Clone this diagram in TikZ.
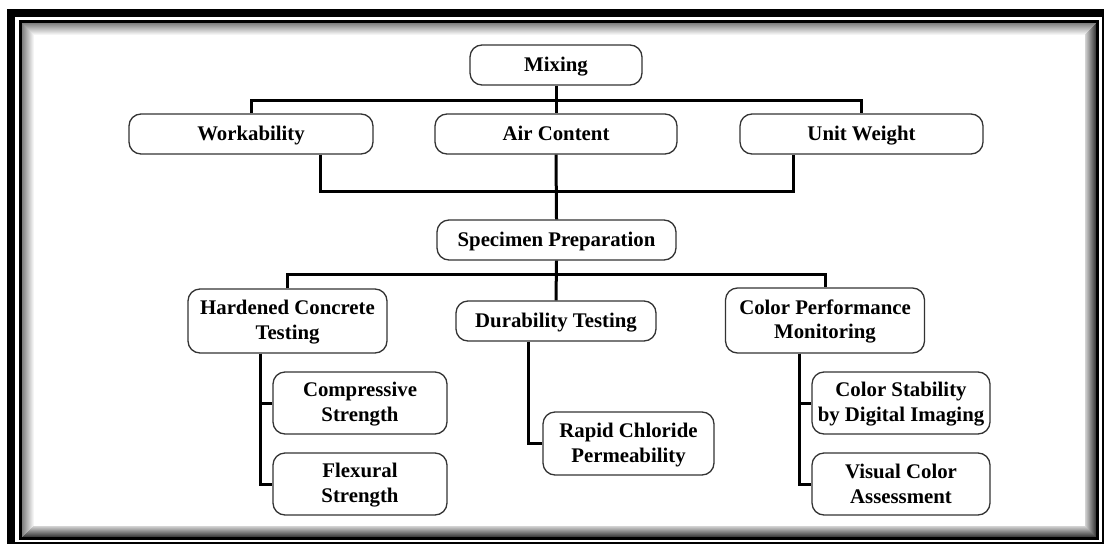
\documentclass[tikz,border=0pt]{standalone}
\usepackage{fontspec}
\setmainfont{Liberation Serif}
\newcommand{\stl}[1]{#1\vrule height 17pt depth 3.4pt width 0pt\relax}
\begin{document}
\begin{tikzpicture}[x=1pt,y=-1pt,
  box/.style={draw=black!80, line width=1.3pt, rounded corners=12pt, fill=white,
    align=center, inner sep=0pt, font=\bfseries\fontsize{20.8}{24.5}\selectfont},
  conn/.style={line width=3pt, black, line cap=butt, line join=miter}]
\useasboundingbox (0,0) rectangle (1107,546);
% frame
\fill[white] (0,0) rectangle (1107,546);
\fill[black] (7,9) rectangle (1104,544);
\fill[white] (15,17) rectangle (1101.5,541.5);
\foreach \i in {0,...,11} {
  \pgfmathsetmacro\op{0.5*(1-\i/12)}
  \pgfmathsetmacro\opb{0.8*(1-\i/14)}
  \draw[black, opacity=\op, line width=1pt] (22+\i,537-\i) -- (22+\i,23+\i) -- (1096-\i,23+\i);
  \draw[black, opacity=\opb, line width=1pt] (1096-\i,23+\i) -- (1096-\i,537-\i) -- (22+\i,537-\i);
}
\draw[black, line width=2.5pt] (20.5,21.5) rectangle (1097.5,538.5);

% nodes
\node[box, minimum width=172pt, minimum height=40pt] (mix) at (556,65) {\stl{Mixing}};
\node[box, minimum width=244pt, minimum height=40pt] (work) at (251,134) {\stl{Workability}};
\node[box, minimum width=242pt, minimum height=40pt] (air) at (556,134) {\stl{Air Content}};
\node[box, minimum width=243pt, minimum height=40pt] (unit) at (861.5,134) {\stl{Unit Weight}};
\node[box, minimum width=239pt, minimum height=40pt] (spec) at (556.5,240) {\stl{Specimen Preparation}};
\node[box, minimum width=199pt, minimum height=64pt] (hard) at (287.5,321) {\stl{Hardened Concrete}\\\stl{Testing}};
\node[box, minimum width=200pt, minimum height=40pt] (dur) at (556,321) {\stl{Durability Testing}};
\node[box, minimum width=199pt, minimum height=65pt] (color) at (825,320.5) {\stl{Color Performance}\\\stl{Monitoring}};
\node[box, minimum width=174pt, minimum height=62pt] (comp) at (360,403) {\stl{Compressive}\\\stl{Strength}};
\node[box, minimum width=174pt, minimum height=62pt] (flex) at (360,484) {\stl{Flexural}\\\stl{Strength}};
\node[box, minimum width=171pt, minimum height=63pt] (rapid) at (628.5,443.5) {\stl{Rapid Chloride}\\\stl{Permeability}};
\node[box, minimum width=178pt, minimum height=62pt] (stab) at (901,403) {\stl{Color Stability}\\\stl{by Digital Imaging}};
\node[box, minimum width=178pt, minimum height=62pt] (vis) at (901,484) {\stl{Visual Color}\\\stl{Assessment}};

% junctions
\coordinate (j1) at (556,100);
\coordinate (j2) at (556,191);
\coordinate (j3) at (556,274);

% connectors
\draw[conn] (mix.south) -- (air.north);
\draw[conn] (work.north) |- (j1) -| (unit.north);
\draw[conn] ([xshift=69pt]work.south) |- (j2) -| ([xshift=-68.5pt]unit.south);
\draw[conn] (air.south) -- (spec.north);
\draw[conn] (hard.north) |- (j3) -| (color.north);
\draw[conn] (spec.south) -- (dur.north);
\draw[conn] ([xshift=-27.5pt]hard.south) |- (comp.west);
\draw[conn] ([xshift=-27.5pt]hard.south) |- (flex.west);
\draw[conn] ([xshift=-28pt]dur.south) |- (rapid.west);
\draw[conn] ([xshift=-26pt]color.south) |- (stab.west);
\draw[conn] ([xshift=-26pt]color.south) |- (vis.west);
\end{tikzpicture}
\end{document}
